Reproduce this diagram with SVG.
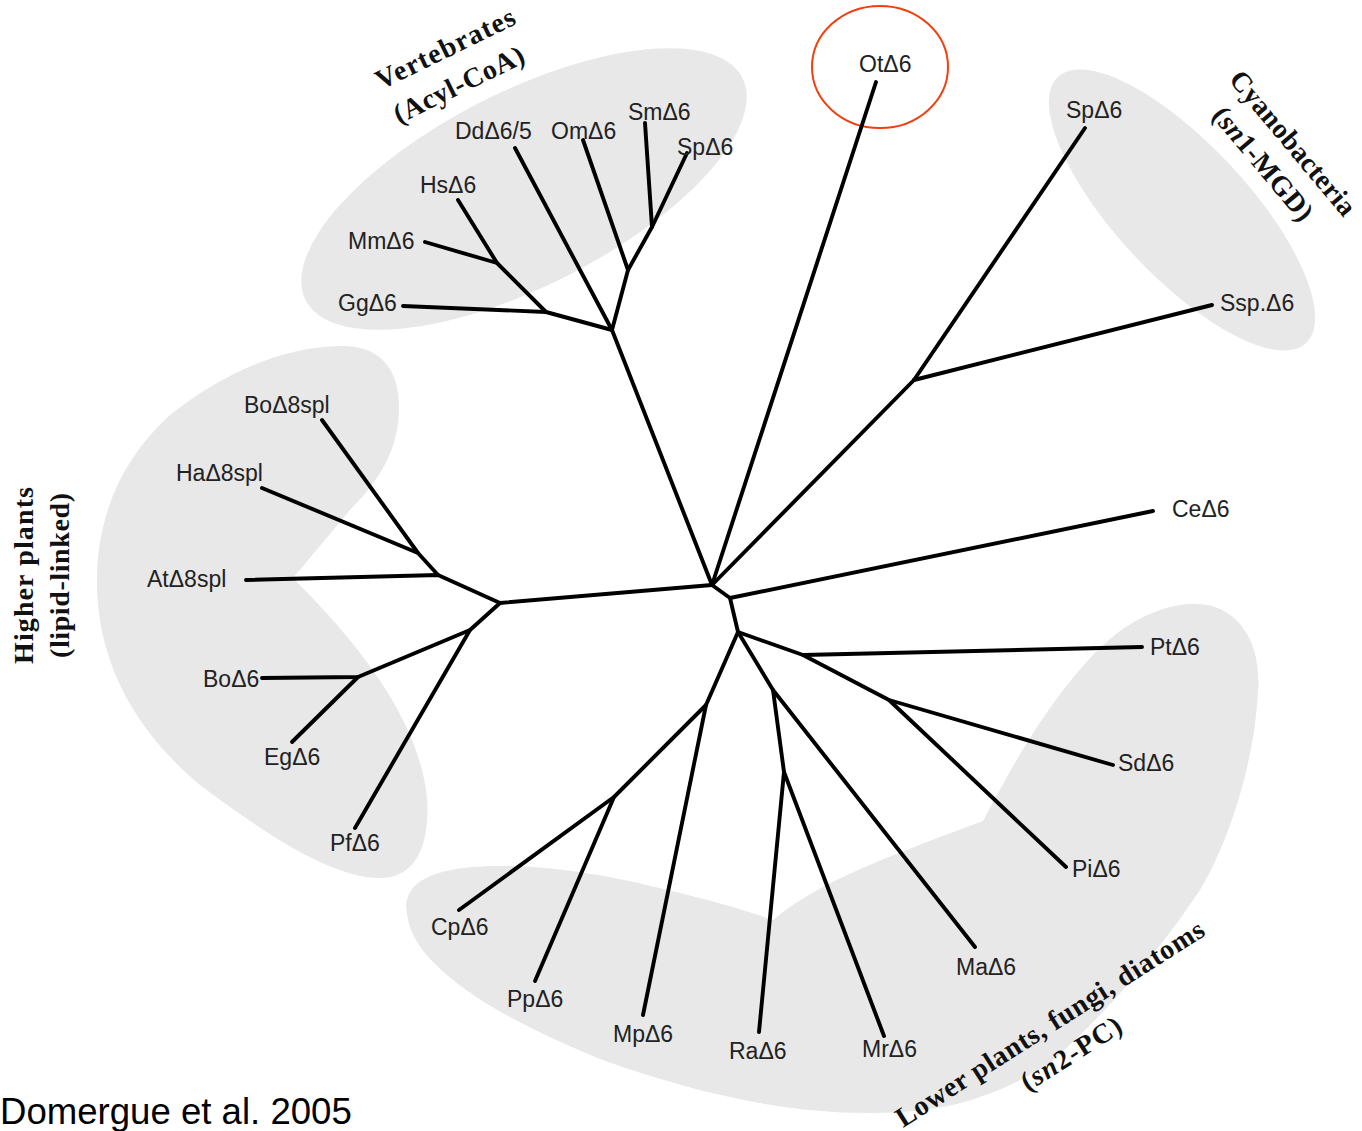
<svg xmlns="http://www.w3.org/2000/svg" width="1362" height="1131" viewBox="0 0 1362 1131">
<style>
.bg{fill:#e8e8e8;stroke:none}
.lbl{font-family:"Liberation Sans",Arial,sans-serif;font-size:23px;fill:#222}
.ttl{font-family:"Liberation Serif","Times New Roman",serif;font-size:28px;font-weight:bold;fill:#111}
.br{stroke:#000;stroke-width:3.9;fill:none;stroke-linecap:round;stroke-linejoin:round}
</style>
<rect width="1362" height="1131" fill="#fff"/>
<g id="clusters">
<ellipse class="bg" cx="524" cy="189" rx="245" ry="97" transform="rotate(-27 524 189)"/>
<ellipse class="bg" cx="1182" cy="210" rx="182" ry="66" transform="rotate(47 1182 210)"/>
<path class="bg" d="M340,346 C385,345 400,375 399,410 C398,450 380,480 350,510 L293,578 C330,615 370,660 395,705 C420,750 430,790 427,820 C425,855 410,878 380,878 C330,878 260,830 200,785 C140,735 100,670 97,590 C95,520 120,460 170,415 C220,375 280,347 340,346 Z"/>
<path class="bg" d="M407,914 C400,875 450,866 500,866 C560,866 620,878 667,890 C710,900 745,910 773,920 C820,880 900,852 983,821 C1010,770 1040,715 1083,666 C1110,635 1140,612 1180,605 C1235,596 1262,640 1258,690 C1255,760 1230,840 1200,890 C1160,950 1110,1010 1050,1063 C1000,1095 950,1110 900,1112 C800,1118 700,1095 600,1059 C530,1030 470,1000 433,962 C418,947 409,930 407,914 Z"/>
</g>
<ellipse id="highlight" cx="880" cy="67" rx="68" ry="61" fill="none" stroke="#f0400f" stroke-width="2"/>
<g id="connectors" class="br">
<path d="M712,585 L612,330"/>
<path d="M612,330 L515,148"/>
<path d="M612,330 L546,312 L403,306"/>
<path d="M546,312 L497,263 L425,242"/>
<path d="M497,263 L458,200"/>
<path d="M612,330 L628,270 L583,140"/>
<path d="M628,270 L652,227 L645,123"/>
<path d="M652,227 L687,153"/>
<path d="M712,585 L876,82"/>
<path d="M712,585 L914,380 L1085,128"/>
<path d="M914,380 L1212,305"/>
<path d="M712,585 L730,598 L1153,511"/>
<path d="M730,598 L738,632 L803,655 L889,700 L1113,765"/>
<path d="M889,700 L1066,867"/>
<path d="M803,655 L1142,647"/>
<path d="M738,632 L773,690 L975,947"/>
<path d="M773,690 L784,772 L759,1032"/>
<path d="M784,772 L884,1036"/>
<path d="M738,632 L706,705 L643,1015"/>
<path d="M706,705 L614,797 L459,910"/>
<path d="M614,797 L535,981"/>
<path d="M712,585 L500,603 L438,575 L246,580"/>
<path d="M438,575 L418,553 L322,420"/>
<path d="M418,553 L262,488"/>
<path d="M500,603 L470,630 L355,828"/>
<path d="M470,630 L358,677 L262,678"/>
<path d="M358,677 L292,742"/>
</g>
<g id="node-DdD65"><text class="lbl" x="455" y="139">DdΔ6/5</text></g>
<g id="node-OmD6"><text class="lbl" x="551" y="139">OmΔ6</text></g>
<g id="node-SmD6"><text class="lbl" x="628" y="120">SmΔ6</text></g>
<g id="node-SpD6-v"><text class="lbl" x="677" y="155">SpΔ6</text></g>
<g id="node-HsD6"><text class="lbl" x="420" y="193">HsΔ6</text></g>
<g id="node-MmD6"><text class="lbl" x="348" y="249">MmΔ6</text></g>
<g id="node-GgD6"><text class="lbl" x="338" y="311">GgΔ6</text></g>
<g id="node-OtD6"><text class="lbl" x="859" y="72">OtΔ6</text></g>
<g id="node-SpD6-c"><text class="lbl" x="1066" y="118">SpΔ6</text></g>
<g id="node-SspD6"><text class="lbl" x="1220" y="311">Ssp.Δ6</text></g>
<g id="node-CeD6"><text class="lbl" x="1172" y="517">CeΔ6</text></g>
<g id="node-PtD6"><text class="lbl" x="1150" y="655">PtΔ6</text></g>
<g id="node-SdD6"><text class="lbl" x="1118" y="771">SdΔ6</text></g>
<g id="node-PiD6"><text class="lbl" x="1072" y="877">PiΔ6</text></g>
<g id="node-MaD6"><text class="lbl" x="956" y="975">MaΔ6</text></g>
<g id="node-MrD6"><text class="lbl" x="862" y="1057">MrΔ6</text></g>
<g id="node-RaD6"><text class="lbl" x="729" y="1059">RaΔ6</text></g>
<g id="node-MpD6"><text class="lbl" x="613" y="1042">MpΔ6</text></g>
<g id="node-PpD6"><text class="lbl" x="507" y="1007">PpΔ6</text></g>
<g id="node-CpD6"><text class="lbl" x="431" y="935">CpΔ6</text></g>
<g id="node-BoD8spl"><text class="lbl" x="244" y="413">BoΔ8spl</text></g>
<g id="node-HaD8spl"><text class="lbl" x="176" y="481">HaΔ8spl</text></g>
<g id="node-AtD8spl"><text class="lbl" x="147" y="587">AtΔ8spl</text></g>
<g id="node-BoD6"><text class="lbl" x="203" y="687">BoΔ6</text></g>
<g id="node-EgD6"><text class="lbl" x="264" y="765">EgΔ6</text></g>
<g id="node-PfD6"><text class="lbl" x="330" y="851">PfΔ6</text></g>
<g id="titles">
<text class="ttl" transform="translate(381,90) rotate(-26)" textLength="152" lengthAdjust="spacing">Vertebrates</text>
<text class="ttl" transform="translate(399,124) rotate(-26)" textLength="142" lengthAdjust="spacing">(Acyl-CoA)</text>
<text class="ttl" transform="translate(1228,80) rotate(50)" textLength="180" lengthAdjust="spacing">Cyanobacteria</text>
<text class="ttl" transform="translate(1211,116) rotate(50)" textLength="140" lengthAdjust="spacing">(<tspan font-style="italic">sn</tspan>1-MGD)</text>
<text class="ttl" transform="translate(33,664) rotate(-90)" textLength="177" lengthAdjust="spacing">Higher plants</text>
<text class="ttl" transform="translate(69,658) rotate(-90)" textLength="165" lengthAdjust="spacing">(lipid-linked)</text>
<text class="ttl" transform="translate(903,1128) rotate(-32.5)" textLength="360" lengthAdjust="spacing">Lower plants, fungi, diatoms</text>
<text class="ttl" transform="translate(1028,1092) rotate(-32.5)" textLength="114" lengthAdjust="spacing">(<tspan font-style="italic">sn</tspan>2-PC)</text>
</g>
<text x="0" y="1124" font-family="Liberation Sans, Arial, sans-serif" font-size="36.6" fill="#000">Domergue et al. 2005</text>
</svg>
